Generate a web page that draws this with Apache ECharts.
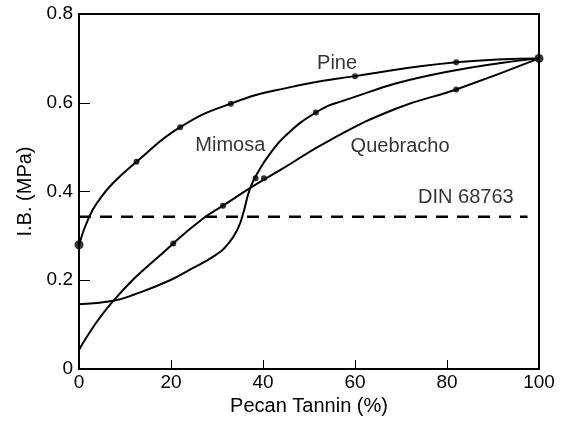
<!DOCTYPE html>
<html>
<head>
<meta charset="utf-8">
<script src="https://cdn.jsdelivr.net/npm/echarts@6/dist/echarts.min.js"></script>
<style>
  html, body { margin: 0; padding: 0; background: #fff; }
  #chart { width: 561px; height: 423px; }
</style>
</head>
<body>
<div id="chart"></div>
<script>
// curves, [pecan tannin %, I.B. MPa]
const pineCurve = [[0, 0.28], [2.2, 0.343], [4.4, 0.381], [7.3, 0.418], [12.5, 0.467], [22, 0.545], [33, 0.598], [45, 0.633], [60, 0.66], [82, 0.691], [100, 0.70]];
const mimosaCurve = [[0, 0.146], [7.5, 0.154], [12.3, 0.169], [19.8, 0.2], [24.1, 0.224], [29.6, 0.256], [32.5, 0.283], [34.6, 0.318], [35.7, 0.351], [37.2, 0.407], [39, 0.445], [41.5, 0.485], [45, 0.527], [51.5, 0.578], [56.7, 0.602], [76.3, 0.662], [100, 0.70]];
const quebrachoCurve = [[0, 0.043], [7.5, 0.154], [20.5, 0.283], [26.7, 0.337], [31.3, 0.368], [37.5, 0.41], [43.7, 0.448], [54.6, 0.516], [69, 0.587], [82, 0.63], [100, 0.70]];

// measured points
const pineDots = [[12.5, 0.467], [22, 0.545], [33, 0.598], [60, 0.66], [82, 0.691]];
const mimosaDots = [[38.4, 0.43], [51.5, 0.578]];
const quebrachoDots = [[20.5, 0.283], [31.3, 0.368], [40.2, 0.43], [82, 0.63]];
const bigDots = [[0, 0.28], [100, 0.70]];

// DIN 68763 minimum
const dinLevel = 0.343;
const dinLine = [[0, dinLevel], [97.5, dinLevel]];

const curveLabels = [[56.1, 0.688, 'Pine'], [32.9, 0.504, 'Mimosa'], [69.8, 0.502, 'Quebracho'], [84.1, 0.387, 'DIN 68763']];

const font = 'Liberation Sans, Arial, Helvetica, sans-serif';

function curve(name, data) {
    return {
        name: name,
        type: 'line',
        data: data,
        smooth: 0.5,
        showSymbol: false,
        lineStyle: { color: '#000', width: 2 },
        z: 3
    };
}

function dots(data, size) {
    return {
        type: 'scatter',
        data: data,
        symbolSize: size,
        itemStyle: { color: '#000' },
        z: 4
    };
}

const chart = echarts.init(document.getElementById('chart'));
chart.setOption({
    animation: false,
    textStyle: { fontFamily: font },
    grid: {
        left: 79, right: 22, top: 14, bottom: 54,
        show: true, borderColor: '#000', borderWidth: 2, backgroundColor: 'transparent'
    },
    xAxis: {
        type: 'value', min: 0, max: 100, interval: 20,
        name: 'Pecan Tannin (%)', nameLocation: 'middle', nameGap: 27,
        nameTextStyle: { fontSize: 20, color: '#000', fontFamily: font },
        axisLine: { lineStyle: { color: '#000', width: 2 } },
        axisTick: { inside: true, length: 9, lineStyle: { color: '#000', width: 1 } },
        axisLabel: { fontSize: 19, color: '#000', margin: 4, fontFamily: font },
        splitLine: { show: false }
    },
    yAxis: {
        type: 'value', min: 0, max: 0.8, interval: 0.2,
        name: 'I.B. (MPa)', nameLocation: 'middle', nameGap: 41,
        nameTextStyle: { fontSize: 20, color: '#000', fontFamily: font },
        axisLine: { show: true, lineStyle: { color: '#000', width: 2 } },
        axisTick: { show: true, inside: true, length: 11, lineStyle: { color: '#000', width: 1 } },
        axisLabel: { fontSize: 19, color: '#000', margin: 6, fontFamily: font },
        splitLine: { show: false }
    },
    series: [
        curve('Pine', pineCurve),
        curve('Mimosa', mimosaCurve),
        curve('Quebracho', quebrachoCurve),
        {
            name: 'DIN 68763',
            type: 'line',
            data: dinLine,
            showSymbol: false,
            lineStyle: { color: '#000', width: 2.5, type: [12, 9] },
            z: 2
        },
        dots(pineDots, 6),
        dots(mimosaDots, 6),
        dots(quebrachoDots, 6),
        dots(bigDots, 9),
        {
            type: 'scatter',
            data: curveLabels,
            symbolSize: 0,
            silent: true,
            label: {
                show: true,
                position: 'inside',
                formatter: p => p.data[2],
                fontSize: 20,
                color: '#000',
                fontFamily: font
            },
            z: 5
        }
    ]
});
</script>
</body>
</html>
